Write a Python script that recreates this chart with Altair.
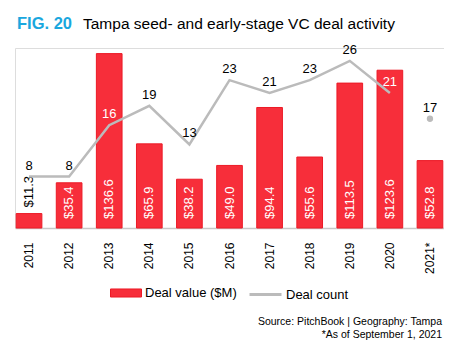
import altair as alt
import pandas as pd

years = ["2011", "2012", "2013", "2014", "2015", "2016", "2017", "2018", "2019", "2020", "2021*"]
deal_value = [11.3, 35.4, 136.6, 65.9, 38.2, 49.0, 94.4, 55.6, 113.5, 123.6, 52.8]
deal_count = [8, 8, 16, 19, 13, 23, 21, 23, 26, 21, 17]
value_series = "Deal value ($M)"
count_series = "Deal count"

fig_label = "FIG. 20"
title_text = "Tampa seed- and early-stage VC deal activity"
source_text = "Source: PitchBook | Geography: Tampa"
note_text = "*As of September 1, 2021"

RED = "#F72E3A"
RED_EDGE = "#EC1A26"
GRAY = "#BBBBBB"
FONT = "Liberation Sans"
VMAX = 141
CMAX = 28

df = pd.DataFrame({"year": years, "value": deal_value, "count": deal_count})
base = alt.Chart(df)

x_enc = alt.X(
    "year:N", sort=years,
    scale=alt.Scale(paddingInner=0.36, paddingOuter=0.03),
    axis=alt.Axis(title=None, labelAngle=270, labelFontSize=12, labelFont=FONT,
                  labelColor="black", ticks=False, tickSize=0, labelPadding=14,
                  domainColor="#C8C8C8", domainWidth=1.5),
)
vscale = alt.Scale(domain=[0, VMAX])
cscale = alt.Scale(domain=[0, CMAX])

fill_legend = alt.Legend(
    orient="none", legendX=95, legendY=229, direction="horizontal", title=None,
    symbolType="M-1,-0.26H1V0.26H-1Z", symbolSize=961,
    symbolStrokeColor=RED_EDGE, symbolStrokeWidth=1, symbolOpacity=1,
    labelFontSize=13, labelFont=FONT, labelColor="black", labelOffset=3,
)
stroke_legend = alt.Legend(
    orient="none", legendX=233, legendY=229, direction="horizontal", title=None,
    symbolType="stroke", symbolSize=1024, symbolStrokeWidth=3, symbolOpacity=1,
    labelFontSize=13, labelFont=FONT, labelColor="black", labelOffset=3,
)

bars = base.transform_calculate(series="'%s'" % value_series).mark_bar(
    stroke=RED_EDGE, strokeWidth=1
).encode(
    x=x_enc,
    y=alt.Y("value:Q", scale=vscale, axis=None),
    fill=alt.Fill("series:N", scale=alt.Scale(domain=[value_series], range=[RED]),
                  legend=fill_legend),
)

vlab_in = base.transform_filter("datum.value >= 20").transform_calculate(
    label="'$' + format(datum.value, '.1f')", zero="0"
).mark_text(angle=270, align="left", baseline="middle", dx=9, fontSize=13,
            font=FONT, color="white").encode(
    x=alt.X("year:N", sort=years),
    y=alt.Y("zero:Q", scale=vscale, axis=None),
    text="label:N",
)

vlab_out = base.transform_filter("datum.value < 20").transform_calculate(
    label="'$' + format(datum.value, '.1f')"
).mark_text(angle=270, align="left", baseline="middle", dx=6, fontSize=13,
            font=FONT, color="black").encode(
    x=alt.X("year:N", sort=years),
    y=alt.Y("value:Q", scale=vscale, axis=None),
    text="label:N",
)

line = base.transform_filter("datum.year != '2021*'").transform_calculate(
    series="'%s'" % count_series
).mark_line(strokeWidth=2.5).encode(
    x=alt.X("year:N", sort=years),
    y=alt.Y("count:Q", scale=cscale, axis=None),
    stroke=alt.Stroke("series:N", scale=alt.Scale(domain=[count_series], range=[GRAY]),
                      legend=stroke_legend),
)

pt = base.transform_filter("datum.year == '2021*'").mark_circle(
    size=40, color=GRAY, opacity=1
).encode(
    x=alt.X("year:N", sort=years),
    y=alt.Y("count:Q", scale=cscale, axis=None),
)

clab = base.mark_text(baseline="alphabetic", dy=-7, fontSize=13, font=FONT).encode(
    x=alt.X("year:N", sort=years),
    y=alt.Y("count:Q", scale=cscale, axis=None),
    text="count:Q",
    color=alt.condition(
        "datum.count / %d * %d + 10 < datum.value" % (CMAX, VMAX),
        alt.value("white"), alt.value("black")),
)

fig_t = alt.Chart(pd.DataFrame({"t": [fig_label]})).mark_text(
    align="left", baseline="alphabetic", fontSize=16.5, fontWeight="bold",
    font=FONT, color="#1AA7DE"
).encode(x=alt.value(2), y=alt.value(-19), text="t:N")

title_t = alt.Chart(pd.DataFrame({"t": [title_text]})).mark_text(
    align="left", baseline="alphabetic", fontSize=15.5, font=FONT, color="black"
).encode(x=alt.value(68), y=alt.value(-19), text="t:N")

src_t = alt.Chart(pd.DataFrame({"t": [source_text]})).mark_text(
    align="right", baseline="alphabetic", fontSize=10.5, font=FONT, color="black"
).encode(x=alt.value(427), y=alt.value(277), text="t:N")

note_t = alt.Chart(pd.DataFrame({"t": [note_text]})).mark_text(
    align="right", baseline="alphabetic", fontSize=10.5, font=FONT, color="black"
).encode(x=alt.value(427), y=alt.value(290), text="t:N")

chart = alt.layer(
    bars, vlab_in, vlab_out, line, pt, clab, fig_t, title_t, src_t, note_t
).resolve_scale(y="independent").properties(
    width=429, height=180,
    autosize=alt.AutoSizeParams(type="none"),
    padding={"left": 7, "top": 40, "right": 0, "bottom": 120},
).configure_view(stroke=None).configure(background="white")

chart.save("out.html", embed_options={"renderer": "svg", "actions": False})
